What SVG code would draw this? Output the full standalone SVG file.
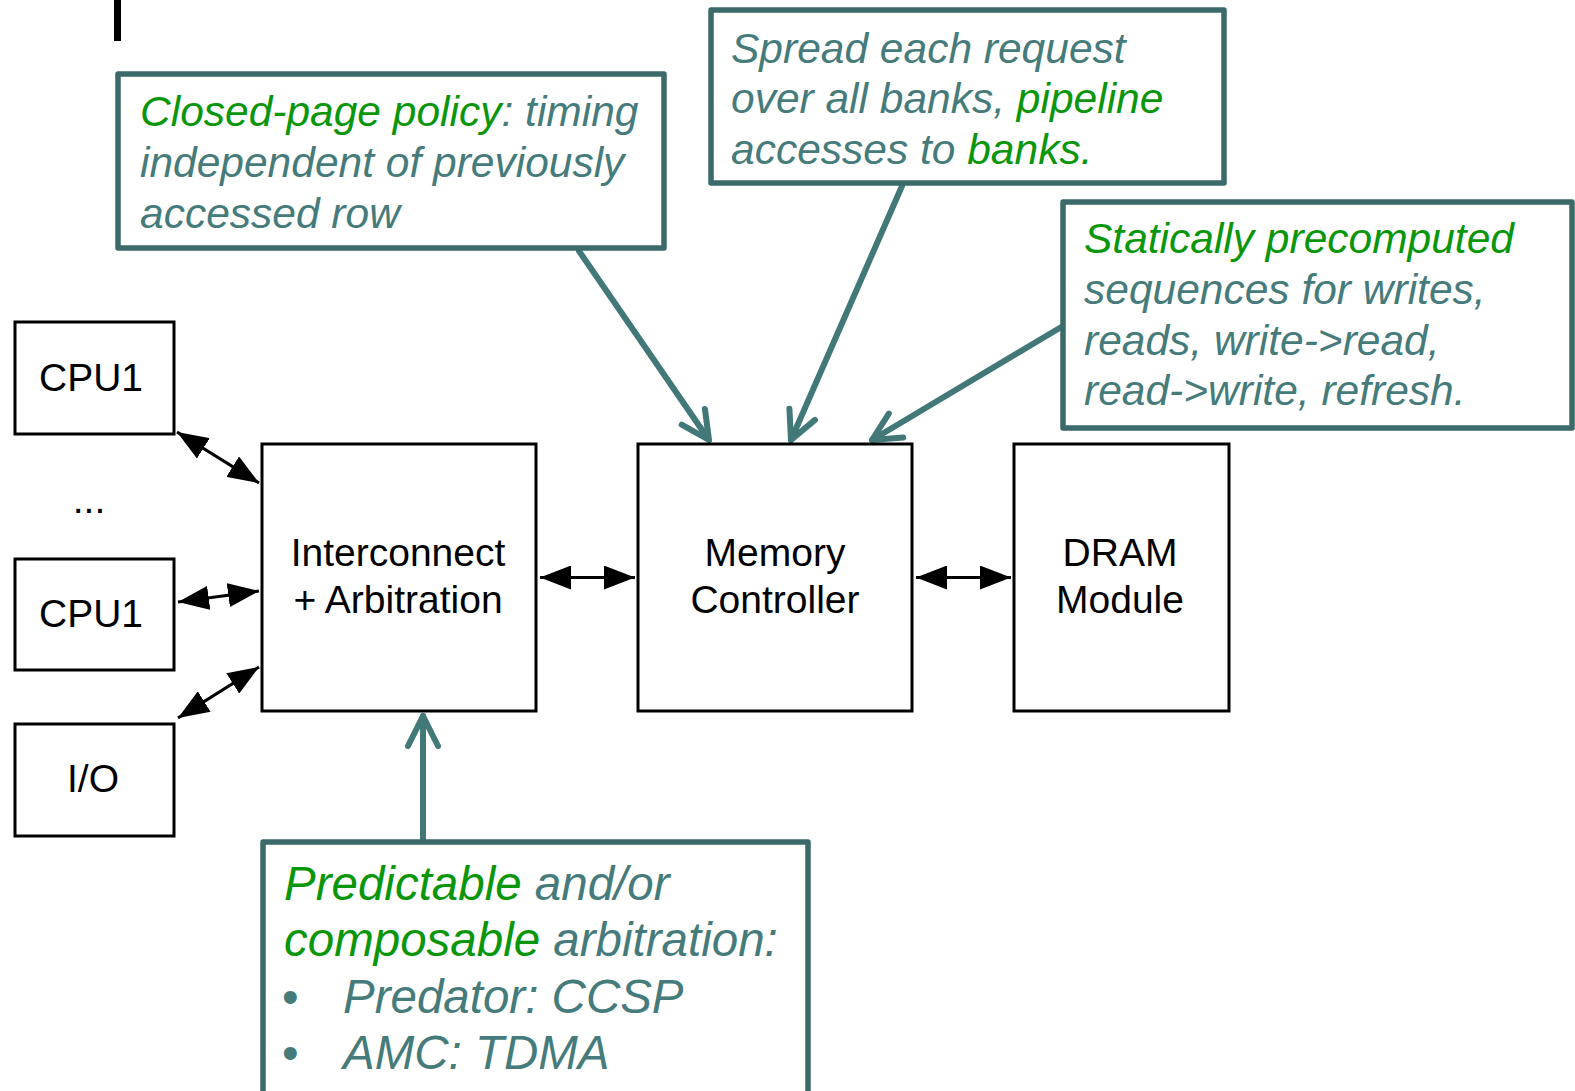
<svg xmlns="http://www.w3.org/2000/svg" width="1575" height="1091" viewBox="0 0 1575 1091">
  <style>
    .box { fill: #ffffff; stroke: #000000; stroke-width: 3; }
    .lbl { font-family: "Liberation Sans", Arial, sans-serif; font-size: 39px; fill: #000000; text-anchor: middle; }
    .note { fill: #ffffff; stroke: #3a6a6a; stroke-width: 5.5; stroke-linejoin: round; }
    .ntxt { font-family: "Liberation Sans", Arial, sans-serif; font-style: italic; font-size: 42.5px; fill: #467b7b; }
    .big { font-size: 47.5px; }
    .g { fill: #0a960a; }
    .bul { font-style: normal; }
    .link { stroke: #000000; stroke-width: 3; fill: none; marker-start: url(#head); marker-end: url(#head); }
    .hint { stroke: #427878; stroke-width: 6; fill: none; stroke-linecap: round; stroke-linejoin: round; }
  </style>
  <defs>
    <marker id="head" markerUnits="userSpaceOnUse" markerWidth="31" markerHeight="24" viewBox="0 0 31 24" refX="31" refY="12" orient="auto-start-reverse">
      <path d="M0,0 L31,12 L0,24 Z" fill="#000000"/>
    </marker>
  </defs>

  <!-- page edge mark -->
  <rect x="114" y="0" width="7" height="41" fill="#000000"/>

  <!-- connectors -->
  <g id="connectors">
    <line class="link" x1="177" y1="432" x2="259" y2="483"/>
    <line class="link" x1="178" y1="602" x2="259" y2="591"/>
    <line class="link" x1="178" y1="718" x2="259" y2="667"/>
    <line class="link" x1="540" y1="577.5" x2="635" y2="577.5"/>
    <line class="link" x1="916" y1="577.5" x2="1011" y2="577.5"/>

    <!-- annotation pointers -->
    <line class="hint" x1="579" y1="251" x2="709" y2="440"/>
    <polyline class="hint" points="681.7,424.7 709,440 704.9,408.9"/>
    <line class="hint" x1="902" y1="186" x2="791" y2="440"/>
    <polyline class="hint" points="789.4,408.7 791,440 815,419.9"/>
    <line class="hint" x1="1063" y1="326" x2="872" y2="440"/>
    <polyline class="hint" points="888.8,413.6 872,440 903.2,437.6"/>
    <line class="hint" x1="423" y1="842" x2="423" y2="716"/>
    <polyline class="hint" points="408,746 423,716 438,746"/>
  </g>

  <!-- blocks -->
  <g id="cpu1-a">
    <rect class="box" x="15" y="322" width="159" height="112"/>
    <text class="lbl" x="91" y="391">CPU1</text>
  </g>
  <g id="ellipsis">
    <text class="lbl" x="89" y="513">...</text>
  </g>
  <g id="cpu1-b">
    <rect class="box" x="15" y="559" width="159" height="111"/>
    <text class="lbl" x="91" y="627">CPU1</text>
  </g>
  <g id="io">
    <rect class="box" x="15" y="724" width="159" height="112"/>
    <text class="lbl" x="93" y="792">I/O</text>
  </g>
  <g id="interconnect">
    <rect class="box" x="262" y="444" width="274" height="267"/>
    <text class="lbl" x="398" y="566">Interconnect</text>
    <text class="lbl" x="398" y="613">+ Arbitration</text>
  </g>
  <g id="memctrl">
    <rect class="box" x="638" y="444" width="274" height="267"/>
    <text class="lbl" x="775" y="566">Memory</text>
    <text class="lbl" x="775" y="613">Controller</text>
  </g>
  <g id="dram">
    <rect class="box" x="1014" y="444" width="215" height="267"/>
    <text class="lbl" x="1120" y="566">DRAM</text>
    <text class="lbl" x="1120" y="613">Module</text>
  </g>

  <!-- annotations -->
  <g id="note-closed-page">
    <rect class="note" x="118" y="74" width="546" height="174"/>
    <text class="ntxt" x="140" y="125.5"><tspan class="g">Closed-page policy</tspan>: timing</text>
    <text class="ntxt" x="140" y="177">independent of previously</text>
    <text class="ntxt" x="140" y="228">accessed row</text>
  </g>
  <g id="note-banks">
    <rect class="note" x="711" y="10" width="513" height="173"/>
    <text class="ntxt" x="731" y="62.5">Spread each request</text>
    <text class="ntxt" x="731" y="113">over all banks, <tspan class="g">pipeline</tspan></text>
    <text class="ntxt" x="731" y="164">accesses to <tspan class="g">banks.</tspan></text>
  </g>
  <g id="note-sequences">
    <rect class="note" x="1063" y="202" width="509" height="226"/>
    <text class="ntxt" x="1084" y="253"><tspan class="g">Statically precomputed</tspan></text>
    <text class="ntxt" x="1084" y="303.5">sequences for writes,</text>
    <text class="ntxt" x="1084" y="354.5">reads, write-&gt;read,</text>
    <text class="ntxt" x="1084" y="405">read-&gt;write, refresh.</text>
  </g>
  <g id="note-arbitration">
    <rect class="note" x="263" y="842" width="545" height="270"/>
    <text class="ntxt big" x="284" y="900"><tspan class="g">Predictable</tspan> and/or</text>
    <text class="ntxt big" x="284" y="956"><tspan class="g">composable</tspan> arbitration:</text>
    <text class="ntxt big bul" x="282" y="1012.5">•</text>
    <text class="ntxt big" x="343" y="1012.5">Predator: CCSP</text>
    <text class="ntxt big bul" x="282" y="1069">•</text>
    <text class="ntxt big" x="343" y="1069">AMC: TDMA</text>
  </g>
</svg>
